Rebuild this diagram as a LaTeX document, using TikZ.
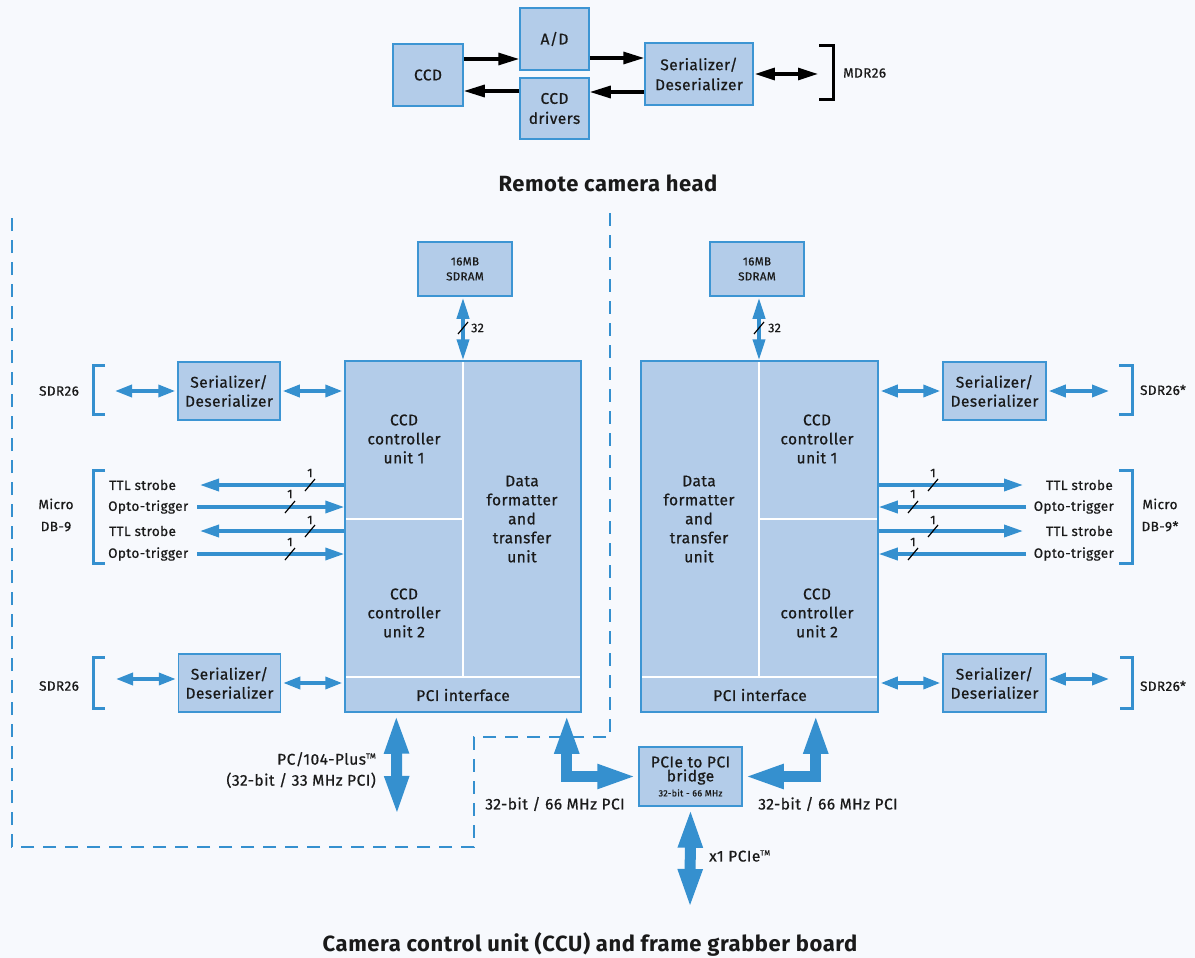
\documentclass[tikz,border=0pt]{standalone}
\usepackage{fontspec}
\setmainfont{Fira Sans}
\newfontfamily\medf{Fira Sans}[FakeBold=0.7,LetterSpace=3]
\newfontfamily\ttlf{Fira Sans Bold}[LetterSpace=2.5]
\usetikzlibrary{arrows.meta}
\definecolor{bg}{HTML}{F7F9FD}
\definecolor{bfill}{HTML}{B3CCE9}
\definecolor{bdraw}{HTML}{3D95D3}
\definecolor{acol}{HTML}{3590CF}
\definecolor{txt}{HTML}{1A1A1A}
\newcommand{\tmark}{\raisebox{6pt}{\fontsize{7.5}{7.5}\selectfont TM}}
\begin{document}
\begin{tikzpicture}[x=1pt,y=-1pt,
  box/.style={draw=bdraw,fill=bfill,line width=1.5pt,inner sep=0pt,align=center,
    font=\medf\fontsize{15.5}{19}\selectfont,text=txt},
  lbl/.style={inner sep=0pt,align=center,font=\medf\fontsize{15.5}{19}\selectfont,text=txt},
  sml/.style={inner sep=0pt,align=center,font=\medf\fontsize{13.5}{22}\selectfont,text=txt},
  tiny/.style={inner sep=0pt,font=\medf\fontsize{12.5}{14}\selectfont,text=txt},
  divl/.style={draw=white,line width=1.5pt},
  blk/.style={draw=black,line width=3.2pt,-{Triangle[width=12pt,length=21pt]}},
  blkd/.style={draw=black,line width=3.2pt,{Triangle[width=12pt,length=20pt]}-{Triangle[width=12pt,length=20pt]},shorten <=1pt,shorten >=1pt},
  dbl/.style={draw=acol,line width=3.5pt,{Triangle[width=12pt,length=17pt]}-{Triangle[width=12pt,length=17pt]},shorten <=2pt,shorten >=2pt},
  sig/.style={draw=acol,line width=3.5pt,-{Triangle[width=12pt,length=19pt]}},
  ram/.style={draw=acol,line width=4pt,{Triangle[width=12pt,length=21pt]}-{Triangle[width=12pt,length=21pt]},shorten <=1pt},
  big/.style={draw=acol,line width=11pt,line join=miter,{Triangle[width=22pt,length=40pt]}-{Triangle[width=22pt,length=40pt]},shorten <=1pt,shorten >=1pt},
  brk/.style={draw=acol,line width=3pt},
  slash/.style={draw=black,line width=1.2pt},
  dsh/.style={draw=acol,line width=1.5pt,dash pattern=on 13pt off 9pt},
  ttl/.style={inner sep=0pt,font=\ttlf\fontsize{22}{24}\selectfont,text=txt}
]
\useasboundingbox (0,0) rectangle (1195,958);
\fill[bg] (0,0) rectangle (1195,958);

% ---------------- Remote camera head ----------------
\node[box,minimum width=70pt,minimum height=62pt] (ccd) at (428,75) {CCD};
\node[box,minimum width=69pt,minimum height=62pt] (ad) at (554.5,39) {A/D};
\node[box,minimum width=69pt,minimum height=61pt,font=\medf\fontsize{15.5}{20}\selectfont] (drv) at (554.5,108.5) {CCD\\drivers};
\node[box,minimum width=108pt,minimum height=62pt,font=\medf\fontsize{15.5}{20}\selectfont] (ser0) at (699,74) {Serializer/\\Deserializer};
\draw[draw=black,line width=3pt] (819,46) -- (833,46) -- (833,100) -- (819,100);
\coordinate (mdrc) at (819,74);
\node[sml,anchor=west] (mdr) at (843,73) {MDR26};
\draw[blk] (ccd.east |- 0,59) -- (ad.west |- 0,59);
\draw[blk] (ad.east |- 0,58) -- (ser0.west |- 0,58);
\draw[blk] (ser0.west |- 0,92) -- (drv.east |- 0,92);
\draw[blk] (drv.west |- 0,91) -- (ccd.east |- 0,91);
\draw[blkd] (ser0.east) -- (mdrc);
\node[ttl] (t1) at (608,183) {Remote camera head};

% ---------------- dashed outline ----------------
\draw[dsh] (610,213) -- (610,737) -- (474,737) -- (474,847) -- (12,847) -- (12,213);

% ---------------- Left CCU ----------------
\node[box,minimum width=94pt,minimum height=54pt,font=\medf\fontsize{11.5}{15}\selectfont] (sdL) at (465,269) {16MB\\SDRAM};
\node[box,minimum width=236pt,minimum height=351pt] (mainL) at (463,536.5) {};
\draw[divl] (463,362) -- (463,677);
\draw[divl] (346,519) -- (463,519);
\draw[divl] (346,677) -- (580,677);
\node[lbl] (c1L) at (404,439) {CCD\\controller\\unit 1};
\node[lbl] (dfL) at (522,519) {Data\\formatter\\and\\transfer\\unit};
\node[lbl] (c2L) at (404,613) {CCD\\controller\\unit 2};
\node[lbl] (pciL) at (463,695) {PCI interface};
\draw[ram] (sdL.south -| 463,0) -- (mainL.north -| 463,0);
\draw[slash] (458,334) -- (468,322);
\node[tiny,anchor=west] (n32L) at (471,328) {32};

\node[box,minimum width=102pt,minimum height=58pt] (serLa) at (229,391) {Serializer/\\Deserializer};
\coordinate (bLa) at (113,391);
\draw[dbl] (serLa.west) -- (bLa);
\draw[dbl] (serLa.east) -- (mainL.west |- serLa.east);
\draw[brk] (105,365) -- (93,365) -- (93,414) -- (105,414);
\node[sml] (sdrLa) at (59,391) {SDR26};

\draw[brk] (105,470) -- (93,470) -- (93,563) -- (105,563);
\node[sml] (mdbL) at (56,515) {Micro\\DB-9};
\node[sml,anchor=west] (ttlL1) at (109,485) {TTL strobe};
\node[sml,anchor=west] (optL1) at (108,507) {Opto-trigger};
\node[sml,anchor=west] (ttlL2) at (109,531) {TTL strobe};
\node[sml,anchor=west] (optL2) at (108,554) {Opto-trigger};
\coordinate (tL1) at (200,485);
\coordinate (tL2) at (200,531);
\coordinate (oL1) at (197,507);
\coordinate (oL2) at (197,554);
\draw[sig] (mainL.west |- tL1) -- (tL1);
\draw[sig] (oL1) -- (mainL.west |- oL1);
\draw[sig] (mainL.west |- tL2) -- (tL2);
\draw[sig] (oL2) -- (mainL.west |- oL2);
\draw[slash] (305,491) -- (315,479);
\draw[slash] (285,513) -- (295,501);
\draw[slash] (305,537) -- (315,525);
\draw[slash] (285,560) -- (295,548);
\node[tiny] (s1a) at (310,473) {1};
\node[tiny] (s1b) at (290,494) {1};
\node[tiny] (s1c) at (310,520) {1};
\node[tiny] (s1d) at (290,542) {1};

\node[box,minimum width=102pt,minimum height=58pt] (serLb) at (229.5,683) {Serializer/\\Deserializer};
\coordinate (bLb) at (114,679);
\draw[dbl] (serLb.west |- bLb) -- (bLb);
\draw[dbl] (serLb.east) -- (mainL.west |- serLb.east);
\draw[brk] (105,657) -- (93,657) -- (93,708) -- (105,708);
\node[sml] (sdrLb) at (59,686) {SDR26};

\coordinate (pcb) at (397,817);
\draw[big] ([xshift=52pt]mainL.south west) -- (pcb);
\node[lbl,anchor=east,align=right,font=\medf\fontsize{15.5}{21}\selectfont] (pc104) at (376,770) {PC/104-Plus\tmark\\(32-bit / 33 MHz PCI)};

% ---------------- Bridge ----------------
\node[box,minimum width=103pt,minimum height=59pt] (bridge) at (690.5,776.5)
  {PCIe to PCI\\[-5pt]bridge\\[-4pt]{\fontsize{9}{11}\selectfont 32-bit - 66 MHz}};
\draw[big] ([xshift=-15pt]mainL.south east) |- (bridge.west);
\node[lbl] (p66L) at (555,804) {32-bit / 66 MHz PCI};
\coordinate (pcie) at (690,910);
\draw[big] (bridge.south) -- (pcie);
\node[lbl,anchor=west] (x1) at (709,856) {x1 PCIe\tmark};

% ---------------- Right CCU ----------------
\node[box,minimum width=94pt,minimum height=54pt,font=\medf\fontsize{11.5}{15}\selectfont] (sdR) at (757,269) {16MB\\SDRAM};
\node[box,minimum width=237pt,minimum height=351pt] (mainR) at (759.5,536.5) {};
\draw[divl] (759,362) -- (759,677);
\draw[divl] (759,519) -- (877,519);
\draw[divl] (642,677) -- (877,677);
\node[lbl] (dfR) at (699,519) {Data\\formatter\\and\\transfer\\unit};
\node[lbl] (c1R) at (817,439) {CCD\\controller\\unit 1};
\node[lbl] (c2R) at (817,613) {CCD\\controller\\unit 2};
\node[lbl] (pciR) at (760,695) {PCI interface};
\draw[ram] (sdR.south -| 759,0) -- (mainR.north -| 759,0);
\draw[slash] (754,334) -- (764,322);
\node[tiny,anchor=west] (n32R) at (768,328) {32};
\draw[big] ([xshift=-63pt]mainR.south east) |- (bridge.east);
\node[lbl] (p66R) at (828,804) {32-bit / 66 MHz PCI};

\node[box,minimum width=103pt,minimum height=58pt] (serRa) at (994.5,391) {Serializer/\\Deserializer};
\coordinate (bRa) at (1111,391);
\draw[dbl] (serRa.west) -- (mainR.east |- serRa.west);
\draw[dbl] (serRa.east) -- (bRa);
\draw[brk] (1119,365) -- (1132,365) -- (1132,414) -- (1119,414);
\node[sml] (sdrRa) at (1163,390) {SDR26*};

\draw[brk] (1119,470) -- (1132,470) -- (1132,563) -- (1119,563);
\node[sml] (mdbR) at (1160,515) {Micro\\DB-9*};
\node[sml,anchor=east] (ttlR1) at (1113,485) {TTL strobe};
\node[sml,anchor=east] (optR1) at (1114,507) {Opto-trigger};
\node[sml,anchor=east] (ttlR2) at (1113,531) {TTL strobe};
\node[sml,anchor=east] (optR2) at (1114,554) {Opto-trigger};
\coordinate (tR1) at (1023,485);
\coordinate (tR2) at (1023,531);
\coordinate (oR1) at (1026,507);
\coordinate (oR2) at (1026,554);
\draw[sig] (mainR.east |- tR1) -- (tR1);
\draw[sig] (oR1) -- (mainR.east |- oR1);
\draw[sig] (mainR.east |- tR2) -- (tR2);
\draw[sig] (oR2) -- (mainR.east |- oR2);
\draw[slash] (928,491) -- (938,479);
\draw[slash] (908,513) -- (918,501);
\draw[slash] (928,537) -- (938,525);
\draw[slash] (908,560) -- (918,548);
\node[tiny] (r1a) at (933,473) {1};
\node[tiny] (r1b) at (913,494) {1};
\node[tiny] (r1c) at (933,520) {1};
\node[tiny] (r1d) at (913,542) {1};

\node[box,minimum width=103pt,minimum height=58pt] (serRb) at (994.5,683) {Serializer/\\Deserializer};
\coordinate (bRb) at (1111,679);
\draw[dbl] (serRb.west) -- (mainR.east |- serRb.west);
\draw[dbl] (serRb.east |- bRb) -- (bRb);
\draw[brk] (1120,657) -- (1132,657) -- (1132,708) -- (1120,708);
\node[sml] (sdrRb) at (1163,686) {SDR26*};

\node[ttl] (t2) at (590,944) {Camera control unit (CCU) and frame grabber board};
\end{tikzpicture}
\end{document}
